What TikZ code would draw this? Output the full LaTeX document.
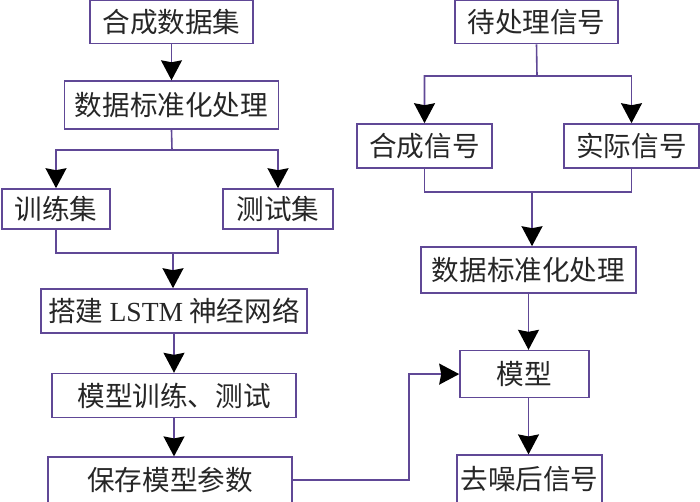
\documentclass[tikz,border=0pt]{standalone}
\usepackage{fontspec}
\setmainfont{Liberation Serif}
\newfontfamily\cjk{Noto Sans CJK SC}[BoldFont={Noto Sans CJK SC}]
\usepackage{tikz}
\usetikzlibrary{arrows.meta,positioning}
\definecolor{boxline}{RGB}{96,72,150}

\begin{document}
\begin{tikzpicture}[x=0.5pt,y=-0.5pt,
        box/.style={draw=boxline, line width=0.8pt, inner sep=0pt, align=center,
            text=black!85, font=\cjk\fontsize{13.8}{16}\selectfont},
        link/.style={draw=boxline, line width=0.8pt},
        arr/.style={link, -{Stealth[black,width=10.5pt,length=10pt,inset=1pt]}}]
        \useasboundingbox (0,0) rectangle (700,502);

        % left column
        \node[box, minimum width=81.5pt, minimum height=21.5pt] (syndata) at (171.5,22) {合成数据集};
        \node[box, minimum width=107pt, minimum height=24pt, below=18pt of syndata] (norml) {数据标准化处理};
        \node[box, minimum width=54pt, minimum height=20pt] (train) at (56,209) {训练集};
        \node[box, minimum width=55pt, minimum height=20pt] (test) at (278,209) {测试集};
        \node[box, minimum width=133pt, minimum height=22pt] (lstm) at (174,311) {搭建 {\rmfamily LSTM} 神经网络};
        \node[box, minimum width=122pt, minimum height=22pt, below=19.5pt of lstm] (trainmod) {模型训练、测试};
        \node[box, minimum width=122pt, minimum height=23pt, below=19pt of trainmod, xshift=-2pt] (save) {保存模型参数};

        % right column
        \node[box, minimum width=81.5pt, minimum height=21.5pt] (signal) at (536.5,22) {待处理信号};
        \node[box, minimum width=67.5pt, minimum height=22pt] (synsig) at (424.5,146) {合成信号};
        \node[box, minimum width=67.5pt, minimum height=22pt] (realsig) at (631.5,146) {实际信号};
        \node[box, minimum width=107.5pt, minimum height=23pt] (normr) at (528.5,270) {数据标准化处理};
        \node[box, minimum width=64.5pt, minimum height=23.5pt, below=28pt of normr, xshift=-2pt] (model) {模型};
        \node[box, minimum width=72.5pt, minimum height=24pt, below=28pt of model, xshift=2.5pt] (out) {去噪后信号};

        \coordinate (forkl) at (172,150);
        \coordinate (joinl) at (173,253);
        \coordinate (bend) at (409,478);
        \coordinate (forkr) at (537,76);
        \coordinate (joinr) at (532,192);

        \draw[arr] (syndata) -- (norml);
        \draw[arr] (norml.south) -- (forkl) -| (train);
        \draw[arr] (forkl) -| (test);
        \draw[link] (train) |- (joinl) -| (test);
        \draw[arr] (joinl) -- (joinl |- lstm.north);
        \draw[arr] (lstm) -- (trainmod);
        \draw[arr] (trainmod.south -| lstm) -- (save.north -| lstm);
        \draw[arr] (save.east) -- (save.east -| bend) |- (model);

        \draw[arr] (signal.south) -- (forkr) -| (synsig);
        \draw[arr] (forkr) -| (realsig);
        \draw[link] (synsig) |- (joinr) -| (realsig);
        \draw[arr] (joinr) -- (joinr |- normr.north);
        \draw[arr] (normr.south) -- (normr.south |- model.north);
        \draw[arr] (model.south -| normr) -- (out.north -| normr);
    \end{tikzpicture}
\end{document}
